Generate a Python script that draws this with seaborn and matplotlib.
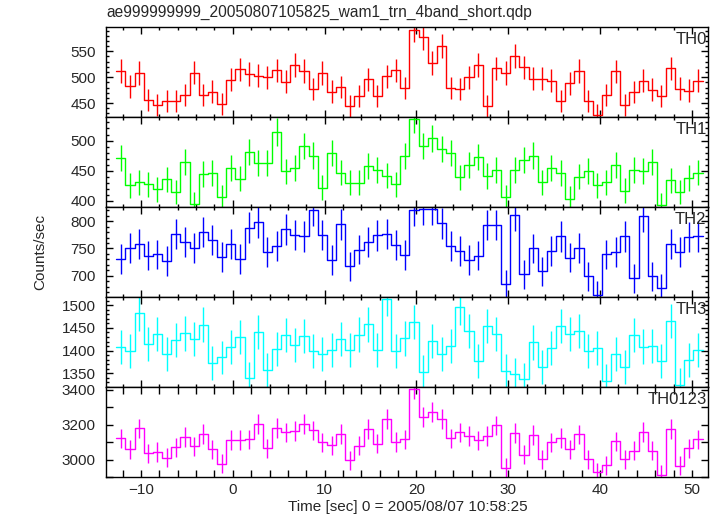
import matplotlib.pyplot as plt
import numpy as np
import pandas as pd
import seaborn as sns
from matplotlib.ticker import MultipleLocator

TITLE = "ae999999999_20050807105825_wam1_trn_4band_short.qdp"
XLABEL = "Time [sec] 0 = 2005/08/07 10:58:25"
YLABEL = "Counts/sec"

BANDS = ["TH0", "TH1", "TH2", "TH3", "TH0123"]
COLORS = ["#ff0000", "#00ff00", "#0000ff", "#00ffff", "#ff00ff"]

# 64 light-curve bins, start time and width in sec
T_START = -12.2
BIN_WIDTH = 0.998
N_BINS = 64

th0 = [512, 482, 508, 456, 446, 453, 453, 465, 509, 465, 472, 448, 495, 515, 506, 503,
       500, 513, 491, 524, 512, 477, 508, 472, 481, 444, 464, 496, 463, 502, 513, 479,
       592, 577, 528, 560, 479, 477, 500, 524, 444, 517, 508, 540, 519, 497, 497, 493,
       454, 488, 512, 454, 427, 465, 511, 446, 471, 493, 476, 463, 517, 478, 474, 493]
th1 = [471, 426, 431, 428, 419, 436, 415, 465, 395, 445, 446, 407, 455, 437, 481, 463,
       463, 514, 449, 455, 491, 475, 422, 479, 447, 430, 430, 458, 451, 442, 428, 474,
       535, 491, 504, 486, 479, 439, 459, 473, 441, 451, 406, 451, 468, 475, 431, 455,
       446, 404, 440, 450, 426, 431, 460, 417, 451, 450, 464, 394, 434, 415, 438, 447]
th2 = [731, 751, 759, 737, 739, 727, 776, 761, 751, 780, 766, 734, 758, 731, 788, 798,
       743, 754, 785, 775, 772, 820, 775, 729, 794, 717, 748, 761, 774, 776, 757, 738,
       820, 822, 822, 796, 754, 746, 729, 737, 793, 793, 684, 811, 703, 750, 708, 746,
       772, 733, 751, 699, 665, 739, 743, 772, 695, 809, 699, 678, 758, 744, 771, 772]
th3 = [1408, 1399, 1482, 1414, 1436, 1393, 1424, 1438, 1425, 1457, 1373, 1385, 1407, 1430, 1339, 1441,
       1357, 1403, 1434, 1412, 1432, 1399, 1393, 1401, 1425, 1401, 1435, 1458, 1402, 1514, 1399, 1427,
       1463, 1354, 1421, 1392, 1410, 1496, 1443, 1377, 1454, 1437, 1355, 1348, 1337, 1418, 1364, 1405,
       1454, 1437, 1443, 1399, 1405, 1334, 1392, 1364, 1434, 1409, 1410, 1377, 1465, 1325, 1380, 1401]
th0123 = [3122, 3058, 3179, 3037, 3043, 3010, 3070, 3131, 3077, 3146, 3058, 2975, 3112, 3112, 3116, 3204,
          3064, 3183, 3156, 3164, 3206, 3168, 3099, 3081, 3146, 2995, 3079, 3174, 3091, 3231, 3100, 3116,
          3408, 3243, 3271, 3233, 3122, 3156, 3135, 3110, 3135, 3196, 2954, 3152, 3029, 3141, 3001, 3099,
          3125, 3060, 3145, 3001, 2929, 2968, 3104, 3001, 3052, 3160, 3052, 2914, 3174, 2966, 3064, 3116]

RATES = [th0, th1, th2, th3, th0123]
YLIMS = [(423, 597), (390, 539), (661, 826), (1320, 1518), (2900, 3417)]
YMAJOR = [50, 50, 50, 50, 200]
YMINOR = [10, 10, 10, 10, 100]


def main():
    sns.set_style("ticks")
    plt.rcParams["font.family"] = ["Liberation Sans", "DejaVu Sans"]
    plt.rcParams["font.size"] = 11

    time = T_START + BIN_WIDTH * np.arange(N_BINS)
    lo = time[0] - BIN_WIDTH / 2
    hi = time[-1] + BIN_WIDTH / 2

    fig, axes = plt.subplots(5, 1, sharex=True, figsize=(7.17, 5.16), dpi=100)
    fig.subplots_adjust(left=0.148, right=0.988, bottom=0.0756, top=0.9477, hspace=0)

    for i, ax in enumerate(axes):
        rate = np.array(RATES[i], dtype=float)
        df = pd.DataFrame({"time": time, "rate": rate})
        sns.histplot(df, x="time", weights="rate", bins=N_BINS, binrange=(lo, hi),
                     element="step", fill=False, color=COLORS[i], linewidth=1, ax=ax)
        # poisson errors for 1 s bins
        ax.errorbar(time, rate, yerr=np.sqrt(rate), fmt="none",
                    ecolor=COLORS[i], elinewidth=1)

        ax.set_xlim(-13.8, 51.8)
        ax.set_ylim(*YLIMS[i])
        ax.set_ylabel("")
        ax.yaxis.set_major_locator(MultipleLocator(YMAJOR[i]))
        ax.yaxis.set_minor_locator(MultipleLocator(YMINOR[i]))
        ax.xaxis.set_major_locator(MultipleLocator(10))
        ax.xaxis.set_minor_locator(MultipleLocator(2))
        ax.tick_params(which="both", direction="in", top=True, right=True,
                       labelsize=11, width=1, color="black")
        ax.tick_params(which="major", length=5)
        ax.tick_params(which="minor", length=2.5)
        if i == 4:
            ax.tick_params(which="minor", length=5)
        ax.tick_params(axis="y", pad=7.5)
        ax.tick_params(axis="x", pad=4)
        for s in ax.spines.values():
            s.set_linewidth(1)
            s.set_color("black")
        ax.text(0.997, 0.94, BANDS[i], transform=ax.transAxes,
                ha="right", va="top", fontsize=12)

    axes[-1].set_xlabel("")
    fig.text(0.149, 0.975, TITLE, ha="left", va="center", fontsize=11.2)
    fig.text(0.569, 0.017, XLABEL, ha="center", va="center", fontsize=11)
    fig.text(0.056, 0.512, YLABEL, ha="center", va="center", rotation=90, fontsize=11)

    fig.savefig("out.png", dpi=100)


if __name__ == "__main__":
    main()
